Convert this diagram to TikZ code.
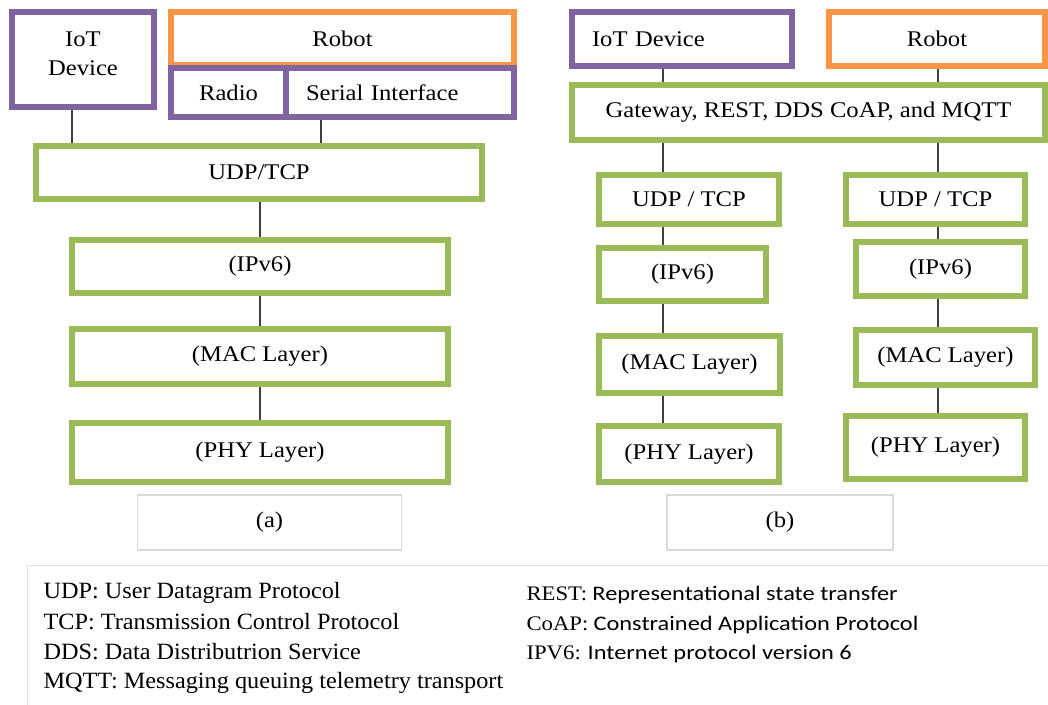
\documentclass[tikz,border=0pt]{standalone}
\usepackage{fontspec}
\setmainfont{Liberation Serif}
\newfontfamily\diagfont[FakeStretch=1.1]{Liberation Serif}
\newfontfamily\legserif[FakeStretch=1.04]{Liberation Serif}
\newfontfamily\legabbr[FakeStretch=1.1]{Liberation Serif}
\newfontfamily\legsans[FakeStretch=1.18]{Carlito}
\newcommand{\boxfont}{\diagfont\fontsize{16.8}{21}\selectfont}

\definecolor{iotpurple}{HTML}{8064A2}
\definecolor{layergreen}{HTML}{9BBB59}
\definecolor{robotorange}{HTML}{F79646}

\tikzset{every picture/.style={line width=0.75pt}}
\tikzset{
  blk/.style 2 args={draw, line width=4.5pt, inner sep=0pt, align=center,
    minimum width=#1*0.75pt, minimum height=#2*0.75pt, font=\boxfont},
  layer/.style={draw=layergreen},
  dev/.style={draw=iotpurple},
  bot/.style={draw=robotorange},
  capbox/.style 2 args={draw=black!15, line width=0.9pt, inner sep=0pt,
    minimum width=#1*0.75pt, minimum height=#2*0.75pt, font=\boxfont},
  link/.style={draw=black!75, line width=1pt},
  legline/.style={anchor=base west, inner sep=0pt},
}

\begin{document}
\begin{tikzpicture}[x=0.75pt,y=0.75pt,yscale=-1,xscale=1]
\useasboundingbox (0,0) rectangle (1048,704);

% trunks of the connectors
\coordinate (trunkA1) at (72,0);
\coordinate (trunkA2) at (321,0);
\coordinate (trunkA3) at (260,0);
\coordinate (trunkB1) at (663,0);
\coordinate (trunkB2) at (938,0);

%% (a)
\node[blk={142}{95}, dev] (iotA) at (83,59.5) {IoT\\[1pt]Device\\[-12pt]};
\node[blk={343}{53}, bot] (robotA) at (342.5,38.5) {Robot};
\node[blk={115}{49}, dev] (radioA) at (228.5,92.5) {Radio};
\node[blk={228}{49}, dev, align=left, text width=188*0.75pt] (serialA) at (400,92.5) {Serial Interface};
\node[blk={446}{53}, layer] (udpA) at (259,172.5) {UDP/TCP};
\node[blk={376}{53}, layer] (ipA) at (260,266.5) {(IPv6)};
\node[blk={376}{55}, layer] (macA) at (260,356.5) {(MAC Layer)};
\node[blk={376}{59}, layer] (phyA) at (260,452.5) {(PHY Layer)};

\draw[link] (iotA.south -| trunkA1) -- (udpA.north -| trunkA1);
\draw[link] (serialA.south -| trunkA2) -- (udpA.north -| trunkA2);
\draw[link] (udpA.south -| trunkA3) -- (ipA.north -| trunkA3);
\draw[link] (ipA.south -| trunkA3) -- (macA.north -| trunkA3);
\draw[link] (macA.south -| trunkA3) -- (phyA.north -| trunkA3);

%% (b)
\node[blk={220}{54}, dev, align=left, text width=180*0.75pt] (iotB) at (682,39) {IoT Device};
\node[blk={216}{54}, bot] (robotB) at (937,39) {Robot};
\node[blk={473}{55}, layer] (gateB) at (808.5,112.5) {Gateway, REST, DDS CoAP, and MQTT};

\node[blk={180}{49}, layer] (udpB1) at (689,199.5) {UDP / TCP};
\node[blk={167}{53}, layer] (ipB1) at (682.5,274.5) {(IPv6)};
\node[blk={181}{57}, layer] (macB1) at (689.5,364.5) {(MAC Layer)};
\node[blk={180}{56}, layer] (phyB1) at (689,454) {(PHY Layer)};

\node[blk={179}{49}, layer] (udpB2) at (935.5,199.5) {UDP / TCP};
\node[blk={169}{54}, layer] (ipB2) at (940.5,269) {(IPv6)};
\node[blk={179}{55}, layer] (macB2) at (945.5,357.5) {(MAC Layer)};
\node[blk={179}{63}, layer] (phyB2) at (935.5,447.5) {(PHY Layer)};

\draw[link] (iotB.south -| trunkB1) -- (gateB.north -| trunkB1);
\draw[link] (robotB.south -| trunkB2) -- (gateB.north -| trunkB2);
\draw[link] (gateB.south -| trunkB1) -- (udpB1.north -| trunkB1);
\draw[link] (gateB.south -| trunkB2) -- (udpB2.north -| trunkB2);
\draw[link] (udpB1.south -| trunkB1) -- (ipB1.north -| trunkB1);
\draw[link] (ipB1.south -| trunkB1) -- (macB1.north -| trunkB1);
\draw[link] (macB1.south -| trunkB1) -- (phyB1.north -| trunkB1);
\draw[link] (udpB2.south -| trunkB2) -- (ipB2.north -| trunkB2);
\draw[link] (ipB2.south -| trunkB2) -- (macB2.north -| trunkB2);
\draw[link] (macB2.south -| trunkB2) -- (phyB2.north -| trunkB2);

% captions
\node[capbox={264}{55}] (capA) at (269.5,522.5) {(a)};
\node[capbox={226}{55}] (capB) at (780,522.5) {(b)};

% legend
\node[draw=black!12, line width=0.9pt, anchor=north west, inner sep=0pt,
  minimum width=1040*0.75pt, minimum height=160*0.75pt] (legend) at (27,565) {};
\begin{scope}[every node/.append style={font=\legserif\fontsize{17.5}{20}\selectfont}]
\node[legline] (lgUDP) at (43,598) {UDP: User Datagram Protocol};
\node[legline] (lgTCP) at (43,629) {TCP: Transmission Control Protocol};
\node[legline] (lgDDS) at (43,659) {DDS: Data Distributrion Service};
\node[legline] (lgMQTT) at (43,688) {MQTT: Messaging queuing telemetry transport};
\end{scope}
\begin{scope}[every node/.append style={font=\fontsize{15.5}{19}\selectfont}]
\node[legline] (lgREST) at (526,600) {{\legabbr REST:} {\legsans Representational state transfer}};
\node[legline] (lgCoAP) at (526,630) {{\legabbr CoAP:} {\legsans Constrained Application Protocol}};
\node[legline] (lgIPV6) at (526,659) {{\legabbr IPV6:} {\legsans Internet protocol version 6}};
\end{scope}

\end{tikzpicture}
\end{document}
